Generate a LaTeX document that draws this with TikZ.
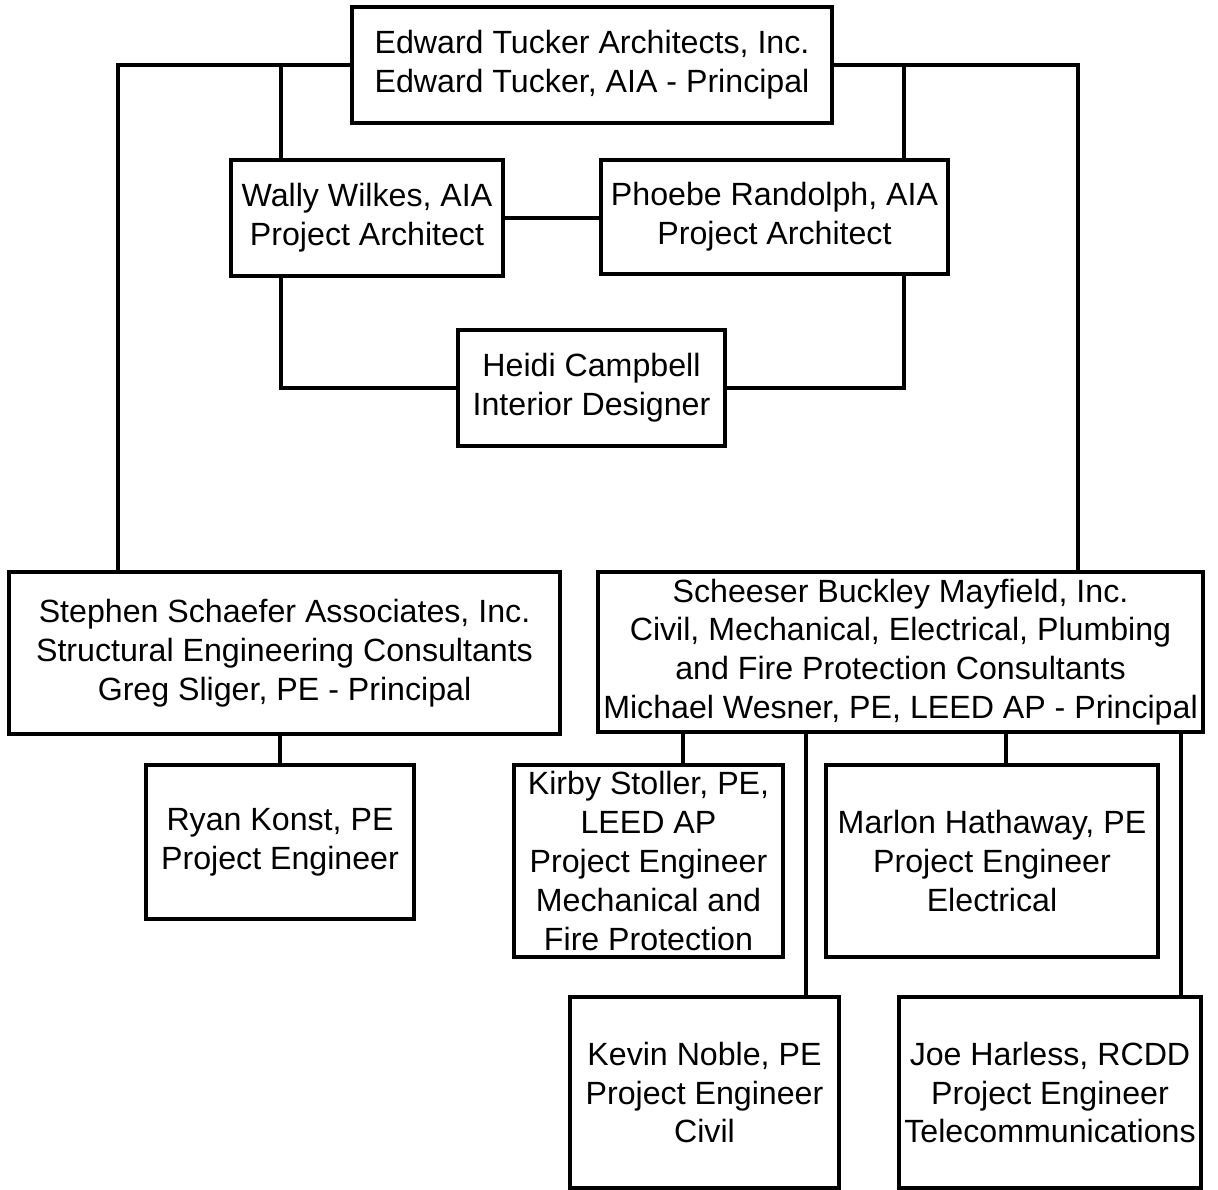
\documentclass[tikz,border=0pt]{standalone}
\usepackage{fontspec}
\setmainfont{Liberation Sans}
\newcommand{\orgfont}{\fontsize{18.3}{22.1}\selectfont}
\begin{document}
\begin{tikzpicture}[x=0.02cm, y=-0.02cm, every node/.style={font=\orgfont},
  orgbox/.style={draw, line width=1.9pt, inner sep=0pt, align=center},
  link/.style={line width=1.9pt}]
  \useasboundingbox (0,0) rectangle (1218,1190);
  % Architect
  \node[orgbox, minimum width=9.6cm, minimum height=2.32cm] (etai) at (592,65)
    {Edward Tucker Architects, Inc.\\Edward Tucker, AIA - Principal};
  \node[orgbox, minimum width=5.44cm, minimum height=2.32cm] (wally) at (367,218)
    {Wally Wilkes, AIA\\Project Architect};
  \node[orgbox, minimum width=6.94cm, minimum height=2.28cm] (phoebe) at (774.5,217)
    {Phoebe Randolph, AIA\\Project Architect};
  \node[orgbox, minimum width=5.34cm, minimum height=2.32cm] (heidi) at (591.5,388)
    {Heidi Campbell\\Interior Designer};
  % Consultants
  \node[orgbox, minimum width=11.02cm, minimum height=3.24cm] (ssa) at (284.5,653)
    {Stephen Schaefer Associates, Inc.\\Structural Engineering Consultants\\Greg Sliger, PE - Principal};
  \node[orgbox, minimum width=5.36cm, minimum height=3.08cm] (ryan) at (280,842)
    {Ryan Konst, PE\\Project Engineer};
  \node[orgbox, minimum width=12.1cm, minimum height=3.2cm] (sbm) at (900.5,652)
    {Scheeser Buckley Mayfield, Inc.\\Civil, Mechanical, Electrical, Plumbing\\and Fire Protection Consultants\\Michael Wesner, PE, LEED AP - Principal};
  \node[orgbox, minimum width=5.38cm, minimum height=3.84cm] (kirby) at (648.5,861)
    {Kirby Stoller, PE,\\LEED AP\\Project Engineer\\Mechanical and\\Fire Protection};
  \node[orgbox, minimum width=6.64cm, minimum height=3.84cm] (marlon) at (992,861)
    {Marlon Hathaway, PE\\Project Engineer\\Electrical};
  \node[orgbox, minimum width=5.38cm, minimum height=3.82cm] (kevin) at (704.5,1092.5)
    {Kevin Noble, PE\\Project Engineer\\Civil};
  \node[orgbox, minimum width=6.04cm, minimum height=3.82cm] (joe) at (1050,1092.5)
    {Joe Harless, RCDD\\Project Engineer\\Telecommunications};
  % x positions of the vertical runs
  \coordinate (xl) at (118,0);   \coordinate (xw) at (281,0);
  \coordinate (xp) at (904,0);   \coordinate (xr) at (1078,0);
  \coordinate (xki) at (683,0);  \coordinate (xke) at (806,0);
  \coordinate (xma) at (1006,0); \coordinate (xjo) at (1181,0);
  % connectors
  \draw[link] (etai.west) -| (ssa.north -| xl);
  \draw[link] (etai.west -| xw) -- (wally.north -| xw);
  \draw[link] (etai.east) -| (sbm.north -| xr);
  \draw[link] (etai.east -| xp) -- (phoebe.north -| xp);
  \draw[link] (wally.east) -- (wally.east -| phoebe.west);
  \draw[link] (wally.south -| xw) |- (heidi.west);
  \draw[link] (phoebe.south -| xp) |- (heidi.east);
  \draw[link] (ssa.south -| ryan.north) -- (ryan.north);
  \draw[link] (sbm.south -| xki) -- (kirby.north -| xki);
  \draw[link] (sbm.south -| xma) -- (marlon.north -| xma);
  \draw[link] (sbm.south -| xke) -- (kevin.north -| xke);
  \draw[link] (sbm.south -| xjo) -- (joe.north -| xjo);
\end{tikzpicture}
\end{document}
